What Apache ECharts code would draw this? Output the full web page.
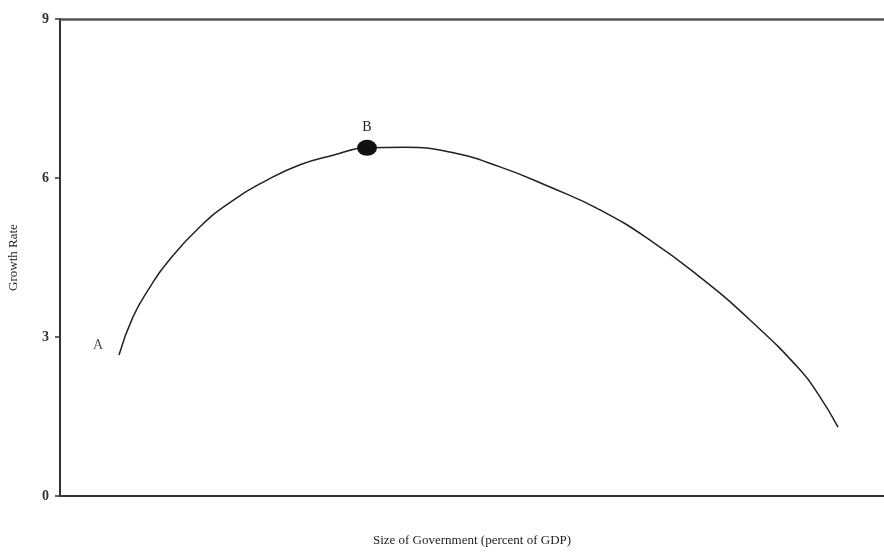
<!DOCTYPE html>
<html>
<head>
<meta charset="utf-8">
<script src="https://cdn.jsdelivr.net/npm/echarts@6/dist/echarts.min.js"></script>
<style>html,body{margin:0;padding:0;background:#fff}#c{width:884px;height:554px}</style>
</head>
<body>
<div id="c"></div>
<script>
var curveX = [7.16, 8.86, 10.92, 12.99, 16.99, 21.0, 25.12, 29.13, 33.13, 37.26, 41.87, 47.33, 53.40, 59.47, 65.53, 71.60, 77.67, 83.74, 89.81, 92.23, 94.42];
var curveY = [2.66, 3.38, 3.94, 4.40, 5.08, 5.58, 5.96, 6.25, 6.43, 6.57, 6.58, 6.49, 6.21, 5.83, 5.40, 4.83, 4.13, 3.32, 2.38, 1.87, 1.30];
var pointB = [37.26, 6.57];
var pointA = [7.16, 2.66];
var yTicks = [0, 3, 6, 9];
var yName = 'Growth Rate';
var xName = 'Size of Government (percent of GDP)';

var font = 'Liberation Serif';
var chart = echarts.init(document.getElementById('c'));
var lineData = curveX.map(function (x, i) { return [x, curveY[i]]; });
chart.setOption({
  animation: false,
  grid: { left: 60, right: 0, top: 19, bottom: 58, outerBoundsMode: 'none', containLabel: false },
  xAxis: [{
    type: 'value', min: 0, max: 100, position: 'bottom',
    name: xName, nameLocation: 'middle', nameGap: 38,
    nameTextStyle: { fontFamily: font, fontSize: 13, color: '#222' },
    axisLine: { show: true, lineStyle: { color: '#333', width: 2 } },
    axisTick: { show: false }, axisLabel: { show: false }, splitLine: { show: false }
  }, {
    type: 'value', min: 0, max: 100, position: 'top',
    axisLine: { show: true, lineStyle: { color: '#555', width: 2.5 } },
    axisTick: { show: false }, axisLabel: { show: false }, splitLine: { show: false }
  }],
  yAxis: {
    type: 'value', min: 0, max: 9, interval: 3,
    name: yName, nameLocation: 'middle', nameGap: 40,
    nameTextStyle: { fontFamily: font, fontSize: 13, color: '#222' },
    axisLine: { show: true, lineStyle: { color: '#333', width: 2 } },
    axisTick: { show: true, length: 5, lineStyle: { color: '#333', width: 1.5 } },
    axisLabel: {
      fontFamily: font, fontSize: 14, fontWeight: 'bold', color: '#333', margin: 11,
      formatter: function (v) { return yTicks.indexOf(v) >= 0 ? String(v) : ''; }
    },
    splitLine: { show: false }
  },
  series: [{
    type: 'line', data: lineData, smooth: 0.5, showSymbol: false,
    lineStyle: { color: '#222', width: 1.5 }
  }, {
    type: 'scatter', data: [pointB], symbol: 'circle', symbolSize: [20, 16],
    itemStyle: { color: '#111', opacity: 1 }, z: 5,
    label: { show: true, formatter: 'B', position: 'top', distance: 5, fontFamily: font, fontSize: 14, color: '#222' }
  }, {
    type: 'scatter', data: [pointA], symbolSize: 0,
    label: { show: true, formatter: 'A', position: 'left', offset: [-8, -10], distance: 8, fontFamily: font, fontSize: 14, color: '#222' }
  }]
});
</script>
</body>
</html>
